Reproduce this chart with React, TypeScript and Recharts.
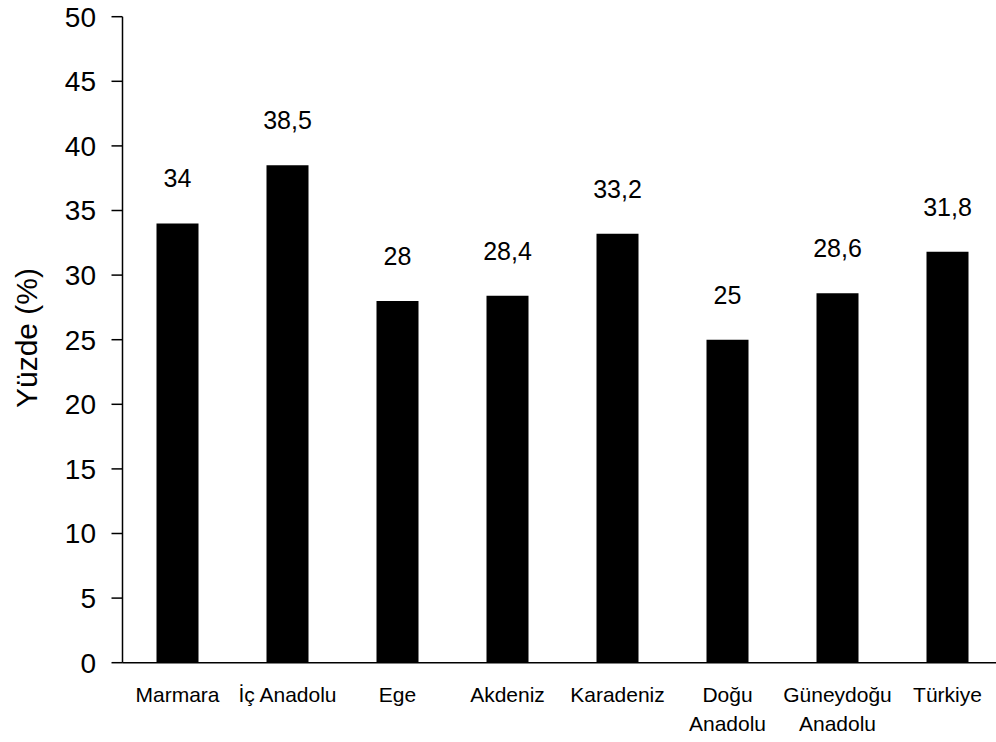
import React from 'react';
import { BarChart, Bar, XAxis, YAxis, LabelList } from 'recharts';

const categories: string[] = [
  'Marmara',
  'İç Anadolu',
  'Ege',
  'Akdeniz',
  'Karadeniz',
  'Doğu\nAnadolu',
  'Güneydoğu\nAnadolu',
  'Türkiye',
];
const values: number[] = [34, 38.5, 28, 28.4, 33.2, 25, 28.6, 31.8];
const yTicks: number[] = [0, 5, 10, 15, 20, 25, 30, 35, 40, 45, 50];

const data = categories.map((c, i) => ({ name: c, value: values[i] }));

const FONT = '"Liberation Sans", Arial, sans-serif';

const XTick = (props: any) => {
  const { x, y, payload } = props;
  const lines = String(payload.value).split('\n');
  return (
    <text
      x={x}
      y={y + 39.5}
      textAnchor="middle"
      fill="#000"
      fontSize={21}
      fontFamily={FONT}
    >
      {lines.map((l, i) => (
        <tspan key={i} x={x} dy={i === 0 ? 0 : 28.3}>
          {l}
        </tspan>
      ))}
    </text>
  );
};

export default function App() {
  return (
    <div
      style={{
        position: 'absolute',
        left: 0,
        top: 0,
        width: 996,
        height: 742,
        overflow: 'hidden',
        background: '#fff',
      }}
    >
      <BarChart
        width={1010}
        height={742}
        data={data}
        margin={{ top: 16.7, right: 7.5, bottom: 0, left: 0 }}
        barSize={42}
      >
        <XAxis
          dataKey="name"
          height={79.3}
          tickLine={false}
          tickSize={0}
          tickMargin={0}
          interval={0}
          tick={<XTick />}
          axisLine={{ stroke: '#000', strokeWidth: 1.5 }}
        />
        <YAxis
          width={122.5}
          domain={[0, 50]}
          ticks={yTicks}
          interval={0}
          tickSize={11}
          tickMargin={15.5}
          axisLine={{ stroke: '#000', strokeWidth: 1.5 }}
          tickLine={{ stroke: '#000', strokeWidth: 1.5 }}
          tick={{ fill: '#000', fontSize: 28, fontFamily: FONT }}
        />
        <Bar dataKey="value" fill="#000" isAnimationActive={false}>
          <LabelList
            dataKey="value"
            position="top"
            offset={36}
            fill="#000"
            fontSize={25}
            fontFamily={FONT}
            formatter={(v: any) => String(v).replace('.', ',')}
          />
        </Bar>
        <text
          x={37}
          y={338}
          textAnchor="middle"
          fontSize={30}
          fontFamily={FONT}
          fill="#000"
          transform="rotate(-90, 37, 338)"
        >
          Yüzde (%)
        </text>
      </BarChart>
    </div>
  );
}
